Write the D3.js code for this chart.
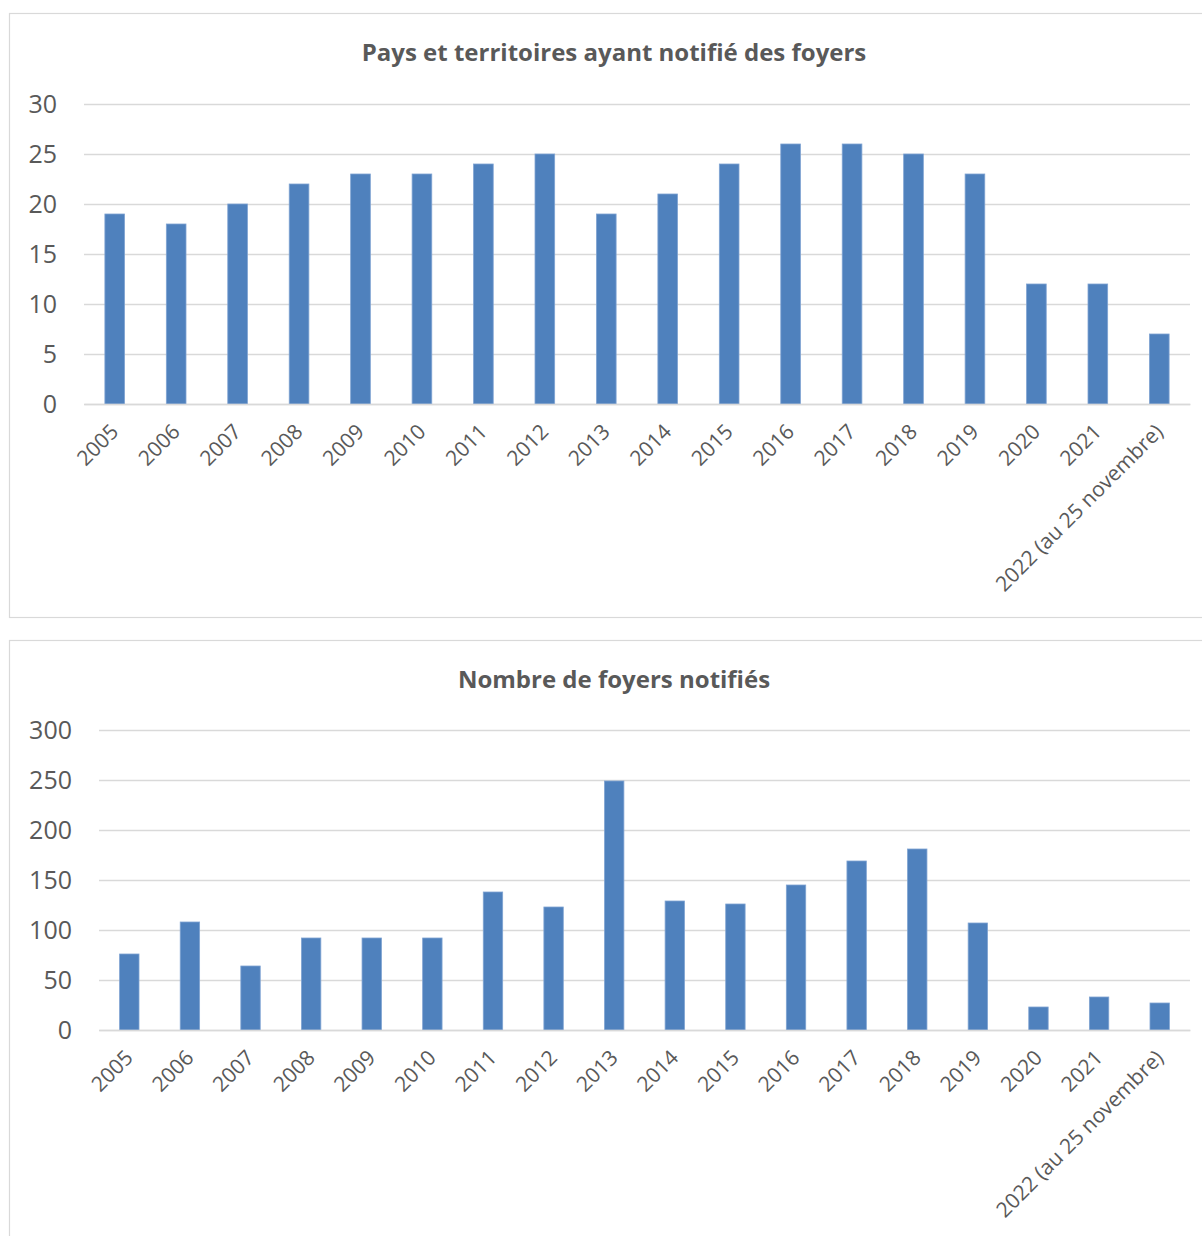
<!DOCTYPE html>
<html lang="fr">
<head>
<meta charset="utf-8">
<script src="https://cdn.jsdelivr.net/npm/d3@7"></script>
<style>
  html, body { margin: 0; padding: 0; background: #ffffff; }
  svg { display: block; }
  text { font-family: "Open Sans", "Noto Sans", sans-serif; fill: #595959; }
</style>
</head>
<body>
<svg id="chart" width="1202" height="1236"></svg>
<script>
// Années (catégories communes aux deux graphiques)
const years = ["2005", "2006", "2007", "2008", "2009", "2010", "2011", "2012", "2013",
  "2014", "2015", "2016", "2017", "2018", "2019", "2020", "2021", "2022 (au 25 novembre)"];

// Nombre de pays et territoires ayant notifié des foyers
const countries = [19, 18, 20, 22, 23, 23, 24, 25, 19, 21, 24, 26, 26, 25, 23, 12, 12, 7];

// Nombre de foyers notifiés
const outbreaks = [76, 108, 64, 92, 92, 92, 138, 123, 249, 129, 126, 145, 169, 181, 107, 23, 33, 27];

const countryTicks = [0, 5, 10, 15, 20, 25, 30];
const outbreakTicks = [0, 50, 100, 150, 200, 250, 300];

const titles = ["Pays et territoires ayant notifié des foyers", "Nombre de foyers notifiés"];

const svg = d3.select("#chart");
const barColor = "#4f81bd";
const gridColor = "#d9d9d9";

function drawPanel(cfg) {
  const g = svg.append("g");

  // cadre du graphique
  g.append("rect")
    .attr("x", cfg.frame.x + 0.5).attr("y", cfg.frame.y + 0.5)
    .attr("width", cfg.frame.w).attr("height", cfg.frame.h)
    .attr("fill", "#ffffff").attr("stroke", gridColor).attr("stroke-width", 1.2);

  // titre
  g.append("text")
    .attr("x", cfg.titleX).attr("y", cfg.titleY)
    .attr("text-anchor", "middle")
    .style("font-size", "24px").style("font-weight", "700")
    .text(cfg.title);

  const x = d3.scaleBand()
    .domain(years)
    .range([cfg.left, cfg.right])
    .paddingInner(0.68).paddingOuter(0.34);

  const y = d3.scaleLinear()
    .domain([0, cfg.max])
    .range([cfg.bottom, cfg.top]);

  // quadrillage horizontal
  const yAxis = d3.axisLeft(y).tickValues(cfg.ticks)
    .tickSize(-(cfg.right - cfg.left)).tickPadding(27).tickFormat(d3.format("d"));
  const ya = g.append("g").attr("transform", `translate(${cfg.left},0)`).call(yAxis);
  ya.select(".domain").remove();
  ya.selectAll(".tick line").attr("stroke", gridColor).attr("stroke-width", 1.5);
  ya.selectAll(".tick text")
    .style("font-size", "25px").attr("fill", "#595959").attr("dy", "0.34em");

  // barres
  g.append("g").selectAll("rect")
    .data(cfg.values)
    .join("rect")
    .attr("x", (d, i) => x(years[i]))
    .attr("y", d => y(d))
    .attr("width", x.bandwidth())
    .attr("height", d => y(0) - y(d))
    .attr("fill", barColor)
    .attr("stroke", "#7fa3d2").attr("stroke-width", 0.8);

  // axe des catégories
  const xAxis = d3.axisBottom(x).tickSize(0).tickPadding(0);
  const xa = g.append("g").attr("transform", `translate(0,${cfg.bottom})`).call(xAxis);
  xa.select(".domain").attr("stroke", gridColor).attr("stroke-width", 1.5);
  xa.selectAll(".tick text")
    .style("font-size", "21px").attr("fill", "#595959")
    .attr("text-anchor", "end")
    .attr("dy", "0")
    .attr("transform", "translate(5,29) rotate(-45)");
}

drawPanel({
  frame: { x: 9, y: 13, w: 1210, h: 604 },
  title: titles[0], titleX: 614, titleY: 61,
  left: 84, right: 1190, top: 104, bottom: 404,
  max: 30, ticks: countryTicks, values: countries
});

drawPanel({
  frame: { x: 9, y: 640, w: 1210, h: 620 },
  title: titles[1], titleX: 614, titleY: 688,
  left: 99, right: 1190, top: 730, bottom: 1030,
  max: 300, ticks: outbreakTicks, values: outbreaks
});
</script>
</body>
</html>
